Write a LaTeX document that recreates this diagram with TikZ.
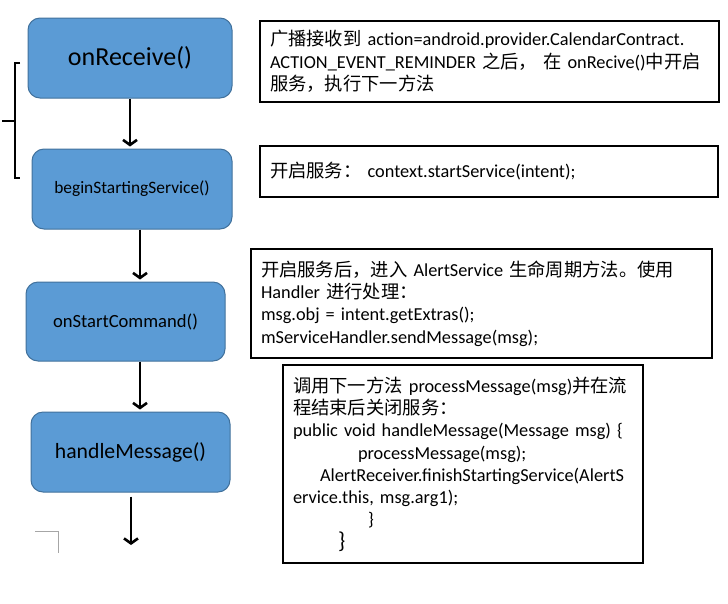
\documentclass[tikz,border=0pt]{standalone}
\usepackage{fontspec}
\setmainfont{Carlito}
\newfontfamily\zhfont{Noto Sans CJK SC}
\newcommand{\zh}[1]{{\zhfont #1}}
\usetikzlibrary{arrows.meta}
\definecolor{callblue}{HTML}{5B9BD5}
\definecolor{callline}{HTML}{41719C}
\tikzset{
  callbox/.style={draw=callline,fill=callblue,rounded corners=12pt,line width=1pt,
    minimum width=200pt,minimum height=80pt,inner sep=0pt},
  notebox/.style={draw=black,line width=1.2pt,align=left,inner xsep=10pt,inner ysep=0pt,
    font=\fontsize{18.3}{22.3}\selectfont},
  flow/.style={line width=2.6pt,-{Straight Barb[length=5pt,width=14pt]}},
  bracket/.style={line width=1.8pt}
}

\begin{document}
\begin{tikzpicture}[x=1pt,y=-1pt]
\useasboundingbox (0,0) rectangle (728,603);
% steps
\node[callbox,minimum width=204pt,font=\fontsize{26}{30}\selectfont] (receive) at (130,58) {onReceive()};
\node[callbox,font=\fontsize{17.4}{20}\selectfont] (begin) at (132,189) {beginStartingService()};
\node[callbox,minimum width=199pt,minimum height=79pt,font=\fontsize{18.6}{22}\selectfont] (command) at (125.5,321.5) {onStartCommand()};
\node[callbox,minimum width=199pt,font=\fontsize{21.7}{25}\selectfont] (handle) at (130.5,452) {handleMessage()};

\coordinate (shaft) at (140,0);
\coordinate (tail) at (131,545);
\draw[flow,shorten >=2pt] (receive.south) -- (receive.south |- begin.north);
\draw[flow,shorten >=2pt] (begin.south -| shaft) -- (command.north -| shaft);
\draw[flow,shorten >=2pt] (command.south -| shaft) -- (handle.north -| shaft);
\draw[flow,shorten <=4pt] (handle.south -| tail) -- (tail);

% notes
\node[notebox,text width=439pt,minimum height=81pt] (note1) at (489.5,61.5)
  {\zh{广播接收到} action=android.provider.CalendarContract.\\
   ACTION\_EVENT\_REMINDER \zh{之后，} \zh{在} onRecive()\zh{中开启}\\
   \zh{服务，执行下一方法}};
\node[notebox,text width=438pt,minimum height=51pt] (note2) at (489,171.5)
  {\zh{开启服务：} context.startService(intent);};
\node[notebox,text width=441pt,minimum height=109pt] (note3) at (481.5,303.5)
  {\zh{开启服务后，进入} AlertService \zh{生命周期方法。使用}\\
   Handler \zh{进行处理：}\\
   msg.obj = intent.getExtras();\\
   mServiceHandler.sendMessage(msg);};
\node[notebox,text width=340pt,minimum height=198pt] (note4) at (463,464)
  {\zh{调用下一方法} processMessage(msg)\zh{并在流}\\
   \zh{程结束后关闭服务：}\\
   public void handleMessage(Message msg) \{\\
   \hspace*{65pt}processMessage(msg);\\
   \hspace*{27pt}AlertReceiver.finishStartingService(AlertS\\
   ervice.this, msg.arg1);\\
   \hspace*{75pt}\}\\
   \hspace*{45pt}{\fontsize{23}{22.3}\selectfont\}}};

% bracket and corner mark
\draw[bracket] (20,63) -- (15,63) -- (15,178) -- (20,178) (2,121) -- (15,121);
\draw[gray!70,line width=0.8pt] (35,531) -- (58,531) -- (58,553);
\end{tikzpicture}
\end{document}
